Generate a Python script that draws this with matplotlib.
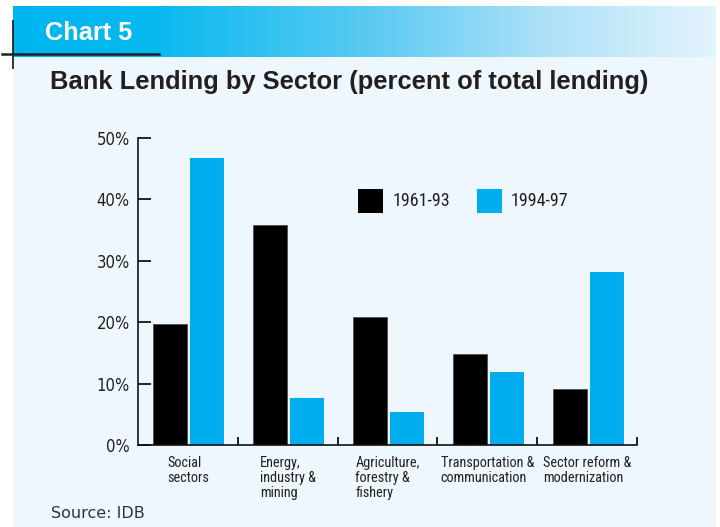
import matplotlib
matplotlib.use("Agg")
import matplotlib.pyplot as plt
import numpy as np
from matplotlib.colors import LinearSegmentedColormap
from matplotlib.patches import Rectangle
from matplotlib.lines import Line2D

sectors = ["Social\nsectors", "Energy,\nindustry &\nmining", "Agriculture,\nforestry &\nfishery",
           "Transportation &\ncommunication", "Sector reform &\nmodernization"]
lend_1961_93 = [19.7, 35.8, 20.8, 14.9, 9.2]
lend_1994_97 = [46.7, 7.7, 5.4, 11.9, 28.1]
series_names = ["1961-93", "1994-97"]
y_ticks = [0, 10, 20, 30, 40, 50]

W, H = 720, 527
ink = "#231f20"
blue = "#00aeef"
# condensed faces for axis text
narrow = dict(family=["Roboto Condensed", "DejaVu Sans"], fontstretch="condensed")
tick_font = dict(family="DejaVu Sans", fontstretch="condensed")

def fx(px):
    return px / W

def fy(py):
    return 1 - py / H

fig = plt.figure(figsize=(W / 100, H / 100), dpi=100)
fig.patch.set_facecolor("white")

# pale panel behind everything
fig.patches.append(Rectangle((fx(13), 0), fx(716) - fx(13), fy(57), transform=fig.transFigure,
                             facecolor="#eff7fe", edgecolor="none", zorder=-5))

# header band with fading blue
hdr = fig.add_axes([fx(13), fy(57), fx(716) - fx(13), (57 - 6) / H])
cmap = LinearSegmentedColormap.from_list("hdr", [(0, "#00b5ef"), (0.2, "#08b9f0"), (0.52, "#5ecbf2"),
                                                 (0.76, "#aee1f8"), (1, "#e2f4fc")])
hdr.imshow(np.linspace(0, 1, 400).reshape(1, -1), aspect="auto", cmap=cmap, extent=[0, 1, 0, 1])
hdr.set_axis_off()
fig.text(fx(45), fy(33), "Chart 5", color="white", fontsize=18.3, fontweight="bold",
         family="Liberation Sans", va="center", ha="left")

# registration mark
fig.lines.append(Line2D([fx(13.3), fx(13.3)], [fy(21), fy(68)], transform=fig.transFigure,
                        color="#222", lw=1.3, zorder=5))
fig.lines.append(Line2D([fx(2), fx(159)], [fy(54), fy(54)], transform=fig.transFigure,
                        color="#222", lw=1.8, zorder=5))

fig.text(fx(50), fy(82), "Bank Lending by Sector (percent of total lending)", color=ink,
         fontsize=18.4, fontweight="bold", family="Liberation Sans", va="center", ha="left")

ax = fig.add_axes([fx(138), fy(445), fx(637) - fx(138), (445 - 138) / H])
ax.set_facecolor("none")
x = np.arange(len(sectors))
bw = 0.34
ax.bar(x - 0.175, lend_1961_93, bw, color="black", edgecolor="#444", linewidth=0.5)
ax.bar(x + 0.195, lend_1994_97, bw, color=blue, edgecolor="none")

ax.set_xlim(-0.5, len(sectors) - 0.5)
ax.set_ylim(0, 50)
for s in ["top", "right"]:
    ax.spines[s].set_visible(False)
for s in ["left", "bottom"]:
    ax.spines[s].set_linewidth(1.2)
    ax.spines[s].set_color("#111")

ax.set_yticks(y_ticks)
ax.set_yticklabels([f"{v}%" for v in y_ticks], fontsize=12, color=ink, **tick_font)
ax.tick_params(axis="y", direction="in", length=9, width=1.2, pad=6)
ax.set_xticks(x + 0.5)
ax.set_xticklabels([])
ax.tick_params(axis="x", direction="in", length=6, width=1.2)

for i, name in enumerate(sectors):
    ax.text(i, -11 / 307 * 50, name, ha="center", va="top", multialignment="left",
            fontsize=10.3, color=ink, linespacing=1.08, **narrow)

# legend drawn as squares with labels
for (lx, tx), name, col in zip([(358, 393), (477, 511)], series_names, ["black", blue]):
    fig.patches.append(Rectangle((fx(lx), fy(213)), fx(25), 24 / H, transform=fig.transFigure,
                                 facecolor=col, edgecolor="none"))
    fig.text(fx(tx), fy(201), name, fontsize=13, color=ink, va="center", ha="left", **narrow)

fig.text(fx(51), fy(513), "Source: IDB", family="DejaVu Sans", fontsize=11.5, color="#333",
         va="center", ha="left")

fig.savefig("out.png", dpi=100)
